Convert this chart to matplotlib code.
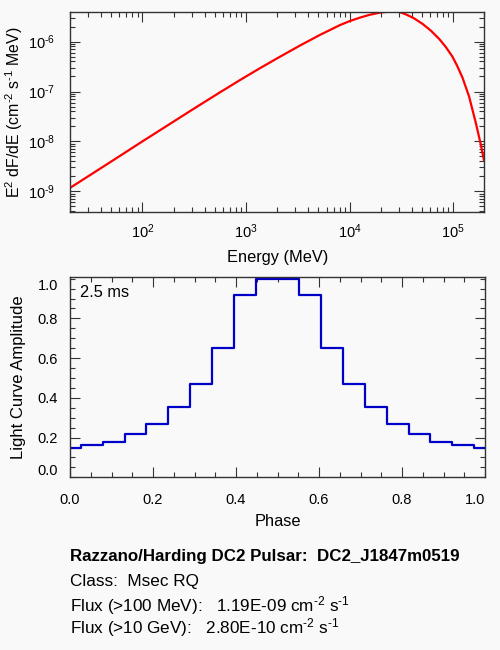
" spectrum and light curve of a DC2 pulsar "
import numpy as np
import matplotlib.pyplot as plt
from matplotlib.ticker import MultipleLocator, LogLocator, FixedLocator

plt.rcParams.update({'font.size': 10.5,
                     'font.family': ['Liberation Sans', 'DejaVu Sans'],
                     'mathtext.fontset': 'custom',
                     'mathtext.rm': 'Liberation Sans',
                     'mathtext.it': 'Liberation Sans',
                     'axes.linewidth': 1.0,
                     'axes.edgecolor': '#333333'})

# spectrum: log10 energy [MeV], log10 E^2 dF/dE
log_energy = [1.301, 1.5, 1.75, 2.0, 2.25, 2.5, 2.75, 2.945, 3.1375, 3.33,
              3.522, 3.714, 3.906, 4.0, 4.099, 4.19, 4.29, 4.39, 4.48,
              4.545, 4.62, 4.705, 4.785, 4.865, 4.93, 4.993, 5.04, 5.09,
              5.154, 5.218, 5.266, 5.298]
log_flux = [-8.932, -8.668, -8.335, -8.0, -7.67, -7.34, -7.015, -6.767,
            -6.530, -6.301, -6.078, -5.866, -5.67, -5.59, -5.52, -5.465,
            -5.42, -5.395, -5.405, -5.455, -5.53, -5.645, -5.78, -5.945,
            -6.11, -6.30, -6.49, -6.72, -7.10, -7.62, -8.05, -8.38]

# light curve: 20 phase bins (centres), amplitude
phase = np.linspace(0.0, 1.0, 20)
amplitude = [0.145, 0.162, 0.178, 0.217, 0.27, 0.352, 0.468, 0.652, 0.92,
             1.0, 1.0, 0.92, 0.652, 0.468, 0.352, 0.27, 0.217, 0.178,
             0.162, 0.145]

info_lines = ["Razzano/Harding DC2 Pulsar:  DC2_J1847m0519",
              "Class:  Msec RQ",
              r"Flux (>100 MeV):   1.19E-09 cm$^{\text{-}2}$ s$^{\text{-}1}$",
              r"Flux (>10 GeV):   2.80E-10 cm$^{\text{-}2}$ s$^{\text{-}1}$"]
info_y = [556.7, 581.7, 606.0, 628.0]

bg = '#f9f9f9'
lab_fs = 11.8
fig = plt.figure(figsize=(5, 6.5), dpi=100, facecolor=bg)


def pow10(v, p):
    " log tick label with a short hyphen, as in the original "
    e = int(round(np.log10(v)))
    s = ("\\text{-}%d" % -e) if e < 0 else "%d" % e
    return r"$\mathdefault{10^{%s}}$" % s


# ---- spectrum
ax1 = fig.add_axes([0.14, 0.6743, 0.8286, 0.3068], facecolor=bg)
energy = 10**np.array(log_energy)
flux = 10**np.array(log_flux)
ax1.plot(energy, flux, color='#ff0000', lw=1.6)
ax1.set_xscale('log')
ax1.set_yscale('log')
ax1.set_xlim(20, 2e5)
ax1.set_ylim(3.9e-10, 3.87e-6)
ax1.xaxis.set_minor_locator(LogLocator(subs=np.arange(2, 10)))
ax1.yaxis.set_minor_locator(LogLocator(subs=np.arange(2, 10)))
ax1.xaxis.set_major_formatter(pow10)
ax1.yaxis.set_major_formatter(pow10)
ax1.set_xlabel("Energy (MeV)", fontsize=lab_fs)
ax1.xaxis.set_label_coords(0.5, -0.19)

# ---- light curve
ax2 = fig.add_axes([0.14, 0.2657, 0.83, 0.3086], facecolor=bg)
ax2.step(phase, amplitude, where='mid', color='#0000c8', lw=1.6)
ax2.set_xlim(0, 1)
ax2.set_ylim(0, 1.01)
# end labels are drawn by hand, nudged inside like the original
ax2.xaxis.set_major_locator(FixedLocator([0.0, 0.2, 0.4, 0.6, 0.8]))
ax2.xaxis.set_minor_locator(MultipleLocator(0.05))
ax2.yaxis.set_major_locator(FixedLocator([0.2, 0.4, 0.6, 0.8]))
ax2.yaxis.set_minor_locator(MultipleLocator(0.05))
ax2.xaxis.set_major_formatter(lambda v, p: "%.1f" % v)
ax2.yaxis.set_major_formatter(lambda v, p: "%.1f" % v)
ax2.set_xlabel("Phase", fontsize=lab_fs)
ax2.xaxis.set_label_coords(0.5, -0.185)
ax2.text(0.025, 0.92, "2.5 ms", transform=ax2.transAxes, ha='left',
         va='center', fontsize=lab_fs)

ax1.tick_params(which='major', axis='x', pad=8)
ax1.tick_params(which='major', axis='y', pad=11)
ax2.tick_params(which='major', axis='x', pad=11)
ax2.tick_params(which='major', axis='y', pad=8.5)
for ax in (ax1, ax2):
    ax.tick_params(which='both', direction='in', top=True, right=True,
                   color='#333333', labelcolor='black')
    ax.tick_params(which='major', length=7, width=0.8)
    ax.tick_params(which='minor', length=3.5, width=0.8)

ax2.annotate("0.0", xy=(0, 0.0), xycoords=('axes fraction', 'data'),
             xytext=(-8.5, 4.3), textcoords='offset points',
             ha='right', va='center')
ax2.annotate("1.0", xy=(0, 1.0), xycoords=('axes fraction', 'data'),
             xytext=(-8.5, -5.3), textcoords='offset points',
             ha='right', va='center')
ax2.annotate("1.0", xy=(1.0, 0), xycoords=('data', 'axes fraction'),
             xytext=(0, -11), textcoords='offset points',
             ha='right', va='top')

fig.text(14.5/500, 1-112.5/650,
         r"E$^2$ dF/dE (cm$^{\text{-}2}$ s$^{\text{-}1}$ MeV)",
         rotation=90, ha='center', va='center', fontsize=11.4)
fig.text(18.4/500, 1-377.5/650, "Light Curve Amplitude",
         rotation=90, ha='center', va='center', fontsize=12)

for i, (line, yy) in enumerate(zip(info_lines, info_y)):
    fig.text(70/500, 1-yy/650, line, ha='left', va='center',
             fontsize=12.2 if i == 0 else 12.3,
             fontweight='bold' if i == 0 else 'normal')

fig.savefig("out.png", dpi=100, facecolor=bg)
